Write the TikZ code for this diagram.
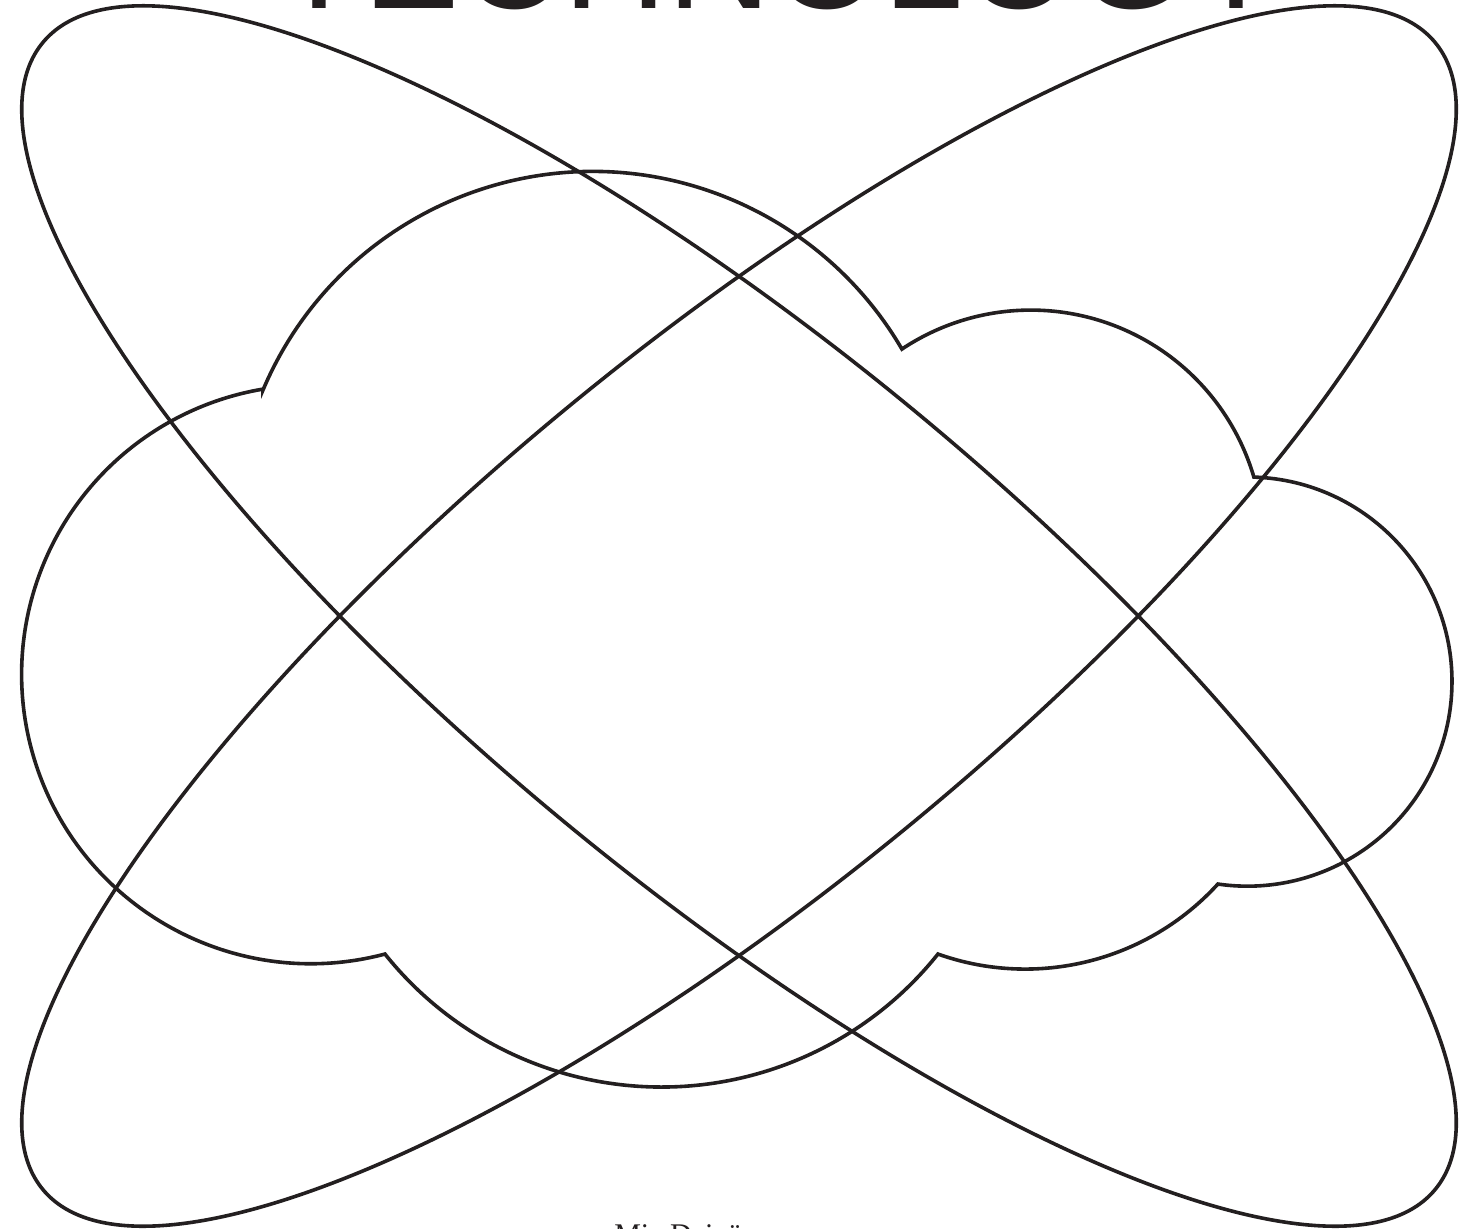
\documentclass[tikz,border=0pt]{standalone}
\usepackage{fontspec}
\setmainfont{Liberation Serif}
\newfontfamily\headfont{Liberation Sans}
\definecolor{ink}{HTML}{231F20}
\begin{document}
\begin{tikzpicture}[x=1pt,y=-1pt,
  outline/.style={draw=ink,line width=3.6pt,line join=miter},
  heading/.style={font=\headfont\fontsize{144}{144}\selectfont,text=ink,inner sep=0pt,anchor=base},
  credit/.style={font=\fontsize{30}{30}\selectfont,text=ink,inner sep=0pt,anchor=base}]
\useasboundingbox (0,0) rectangle (1468,1229);
\clip (0,0) rectangle (1468,1229);
\fill[white] (0,0) rectangle (1468,1229);
\coordinate (center) at (739,616);
% title and credit, cut off by the page edge as in the original
\node[heading] (title) at (780,8) {TECHNOLOGY};
\node[credit] (author) at (678,1244) {Mia Dzinä};
% two crossing orbits
\begin{scope}[shift={(center)},rotate=-39.47]
  \draw[outline] (0,0) ellipse [x radius=902, y radius=270];
\end{scope}
\begin{scope}[shift={(center)},rotate=39.47]
  \draw[outline] (0,0) ellipse [x radius=902, y radius=270];
\end{scope}
% cloud
\coordinate (c1) at (263,390);
\draw[outline] (c1)
  arc[start angle=-157.07, end angle=-30.26, radius=358]
  arc[start angle=-123.67, end angle=-16.36, radius=232.5]
  arc[start angle=-88.18, end angle=98.29, radius=204.6]
  arc[start angle=42.37, end angle=109.55, radius=260.8]
  arc[start angle=38.62, end angle=141.38, radius=353.9]
  arc[start angle=75.16, end angle=260.47, radius=289.3] -- cycle;
\end{tikzpicture}
\end{document}
